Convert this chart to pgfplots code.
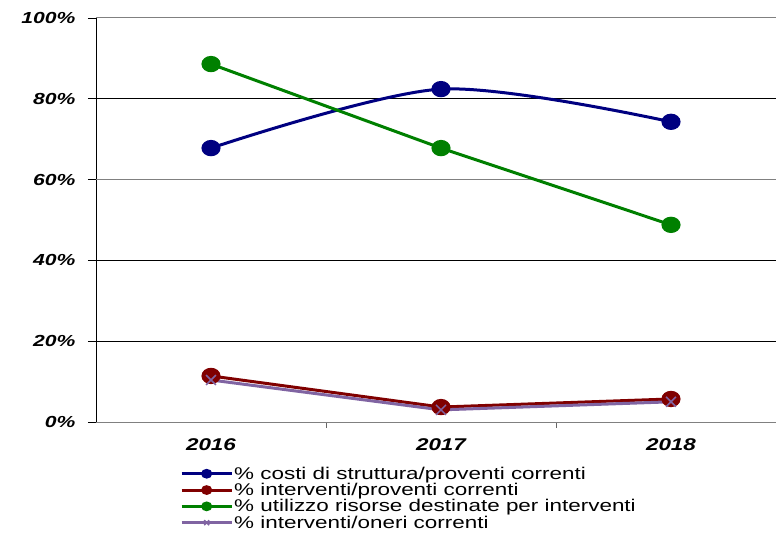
\documentclass[border=0pt]{standalone}
\usepackage{pgfplots}
\pgfplotsset{compat=1.18}
\usepackage{fontspec}
\setmainfont[FakeStretch=1.32]{Liberation Sans}
\definecolor{cblue}{HTML}{000080}
\definecolor{cred}{HTML}{800000}
\definecolor{cgreen}{HTML}{008000}
\definecolor{cpurple}{HTML}{8064A2}
\begin{document}
\begin{tikzpicture}
\begin{axis}[
  at={(0,0)}, anchor=south west,
  scale only axis, width=690bp, height=404bp,
  xmin=-0.5, xmax=2.5, ymin=0, ymax=100,
  axis lines*=left,
  x axis line style={draw=gray, line width=1bp},
  y axis line style={draw=black, line width=0.8bp},
  xtick={0,1,2}, xticklabels={2016,2017,2018},
  major x tick style={draw=none},
  minor xtick={0.5,1.5},
  minor x tick style={draw=gray!80!black, line width=1bp},
  minor tick length=6bp,
  tick align=outside,
  ytick={0,20,40,80}, yticklabels={0\%,20\%,40\%,80\%},
  extra y ticks={60,100}, extra y tick labels={60\%,100\%},
  extra y tick style={grid style={draw=gray, line width=1bp}},
  major tick length=8bp,
  ytick style={draw=black, line width=0.8bp},
  ymajorgrids,
  grid style={draw=black, line width=0.8bp},
  tick label style={font=\fontsize{17bp}{19bp}\selectfont\bfseries\itshape},
  yticklabel style={xshift=-9bp, font=\fontsize{16bp}{19bp}\selectfont\bfseries\itshape},
  xticklabel style={yshift=-5bp},
  clip=false,
  legend style={at={(0.1217,-0.108)}, anchor=north west, draw=none, fill=none,
    inner sep=0pt, row sep=0.5bp,
    font=\fontsize{17bp}{19bp}\selectfont,
    nodes={inner sep=1bp, anchor=west}},
  legend cell align=left,
  legend image code/.code={\draw[mark repeat=2,mark phase=2,#1,mark size=3.5bp]
     plot coordinates {(0bp,0bp) (25bp,0bp) (50bp,0bp)};},
]
\addplot[cblue, line width=3bp, smooth, mark=*, mark size=7bp, mark options={xscale=1.15, yscale=0.95}]
  coordinates {(0,67.8) (1,82.4) (2,74.3)};
\addlegendentry{\% costi di struttura/proventi correnti}
\addplot[cred, line width=3bp, mark=*, mark size=7bp, mark options={xscale=1.15, yscale=0.95}]
  coordinates {(0,11.4) (1,3.7) (2,5.7)};
\addlegendentry{\% interventi/proventi correnti}
\addplot[cgreen, line width=3bp, mark=*, mark size=7bp, mark options={xscale=1.15, yscale=0.95}]
  coordinates {(0,88.6) (1,67.8) (2,48.8)};
\addlegendentry{\% utilizzo risorse destinate per interventi}
\addplot[cpurple, line width=3bp, mark=x, mark size=7bp, mark options={line width=1.5bp}]
  coordinates {(0,10.4) (1,3.0) (2,5.0)};
\addlegendentry{\% interventi/oneri correnti}
\end{axis}
\pgfresetboundingbox
\path[use as bounding box] (-96bp,-111bp) rectangle (680bp,422bp);
\end{tikzpicture}
\end{document}
